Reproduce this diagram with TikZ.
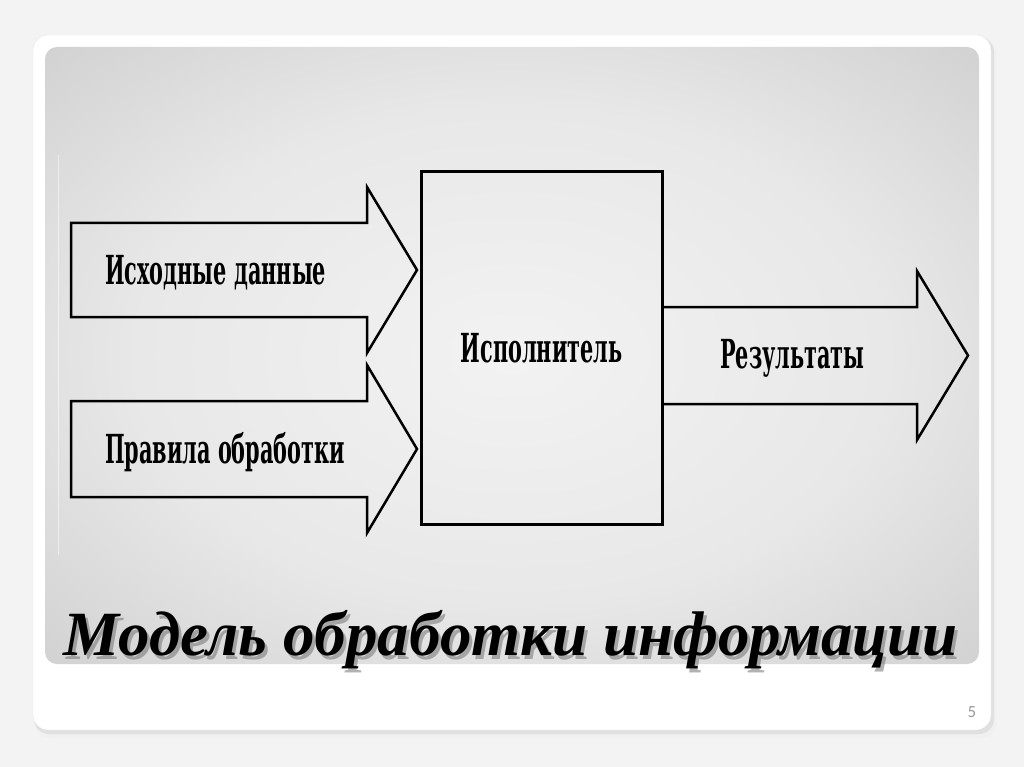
\documentclass[tikz,border=0pt]{standalone}
\usepackage{fontspec}
\usetikzlibrary{positioning}
\newfontfamily\labelfont[FakeStretch=0.52]{DejaVu Serif}
\newfontfamily\titlefont{Liberation Serif}
\newfontfamily\numfont{Carlito}
\definecolor{pagebg}{HTML}{F3F3F3}
\pgfdeclareradialshading{panelshade}{\pgfpoint{0bp}{0bp}}{color(0bp)=(black!5); color(20bp)=(black!9); color(50bp)=(black!26); color(72bp)=(black!40)}
\tikzset{blockarrow/.style = {draw, line width = 2.5, line join = miter}}
\tikzset{lbl/.style = {font = \labelfont\bfseries\fontsize{40}{40}\selectfont, inner sep = 0}}
\tikzset{box/.style = {draw, line width = 3, inner sep = 0, minimum width = 241, minimum height = 352}}

\begin{document}
\begin{tikzpicture}[x = 1pt, y = -1pt]
      \useasboundingbox [fill = pagebg] (0, 0) rectangle (1024, 767);
      % slide card
      \fill [black!6, rounded corners = 15] (35, 38) rectangle (996, 738);
      \fill [black!12, rounded corners = 15] (34, 37) rectangle (994, 734);
      \filldraw [fill = white, draw = black!10, rounded corners = 15] (33, 35) rectangle (991, 730);
      \shade [shading = panelshade, rounded corners = 12] (45, 47) rectangle (979, 664);
      \draw [white, opacity = 0.5] (58, 155) -- (58, 555);
      \node [box, lbl] (exec) at (541.5, 348) {Исполнитель};
      \foreach \name/\top/\bot/\txt in {src/223/317/Исходные данные, rule/401/497/Правила обработки} {
        \pgfmathsetmacro{\mid}{(\top + \bot) / 2}
        \draw [blockarrow] (71, \top) -- (367, \top) -- (367, \top - 36) -- (417, \mid)
          -- (367, \bot + 36) -- (367, \bot) -- (71, \bot) -- cycle;
        \node [lbl, anchor = base west] (\name) at (105, \mid + 14) {\txt};
      }
      \draw [blockarrow] (exec.east |- 0, 307) -- (917, 307) -- (917, 271) -- (968, 355.5)
        -- (917, 440) -- (917, 404) -- (exec.east |- 0, 404);
      \node [lbl, anchor = base west] (res) at (720, 368) {Результаты};
      % title with shadow
      \node [anchor = base west, inner sep = 0, text = black!55, opacity = 0.55,
        font = \titlefont\bfseries\itshape\fontsize{63}{63}\selectfont] at (66, 659) {Модель обработки информации};
      \node [anchor = base west, inner sep = 0,
        font = \titlefont\bfseries\itshape\fontsize{63}{63}\selectfont] (title) at (63, 655) {Модель обработки информации};
      \node [text = black!40, font = \numfont\fontsize{17}{17}\selectfont] (page) at (972, 712) {5};
    \end{tikzpicture}
\end{document}
